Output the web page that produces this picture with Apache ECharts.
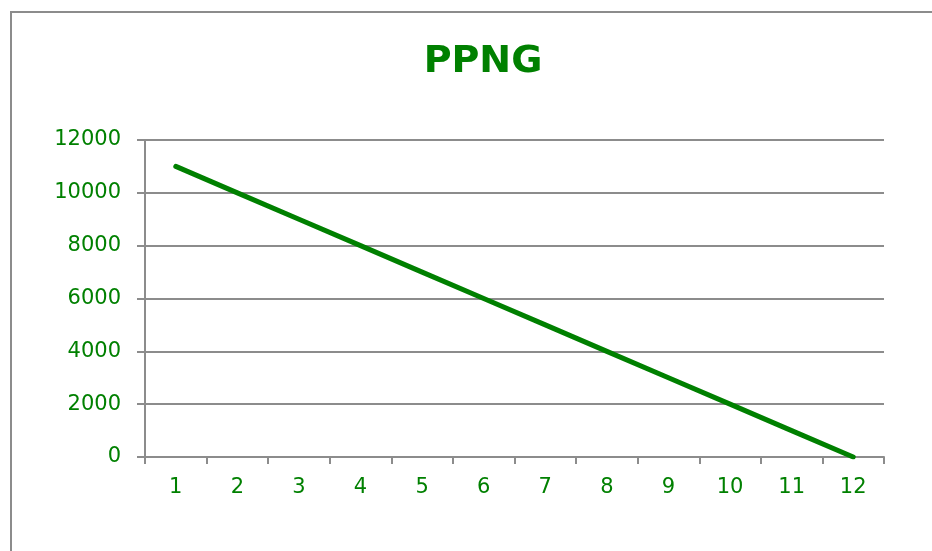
<!DOCTYPE html>
<html><head><meta charset="utf-8">
<script src="https://cdn.jsdelivr.net/npm/echarts@6/dist/echarts.min.js"></script>
<style>html,body{margin:0;padding:0;background:#fff}#c{width:932px;height:551px}</style>
</head><body><div id="c"></div>
<script>
const titleText = 'PPNG';
const categories = ['1','2','3','4','5','6','7','8','9','10','11','12'];
const values = [11000,10000,9000,8000,7000,6000,5000,4000,3000,2000,1000,0];
const yTicks = {min:0, max:12000, interval:2000};

const green = '#008000';
const gray = '#8c8c8c';
const font = 'DejaVu Sans';
const chart = echarts.init(document.getElementById('c'));
chart.setOption({
  animation:false,
  graphic:[{type:'rect', shape:{x:11,y:12,width:940,height:560}, style:{fill:'none', stroke:gray, lineWidth:2}}],
  title:{text:titleText, left:478, textAlign:'center', top:38, textStyle:{color:green, fontSize:38, fontWeight:'bold', fontFamily:font}},
  grid:{left:145, right:48, top:140, bottom:94},
  xAxis:{type:'category', data:categories, boundaryGap:true,
    axisLine:{lineStyle:{color:gray, width:2}},
    axisTick:{show:true, length:7, lineStyle:{color:gray, width:2}},
    axisLabel:{color:green, fontSize:21, fontFamily:font, margin:20}},
  yAxis:{type:'value', min:yTicks.min, max:yTicks.max, interval:yTicks.interval,
    axisLine:{show:true, lineStyle:{color:gray, width:2}},
    axisTick:{show:true, length:8, lineStyle:{color:gray, width:2}},
    splitLine:{lineStyle:{color:gray, width:2}},
    axisLabel:{color:green, fontSize:21, fontFamily:font, margin:24, formatter:v=>String(v)}},
  series:[{type:'line', data:values, symbol:'none', lineStyle:{color:green, width:5, cap:'round'}}]
});
</script></body></html>
